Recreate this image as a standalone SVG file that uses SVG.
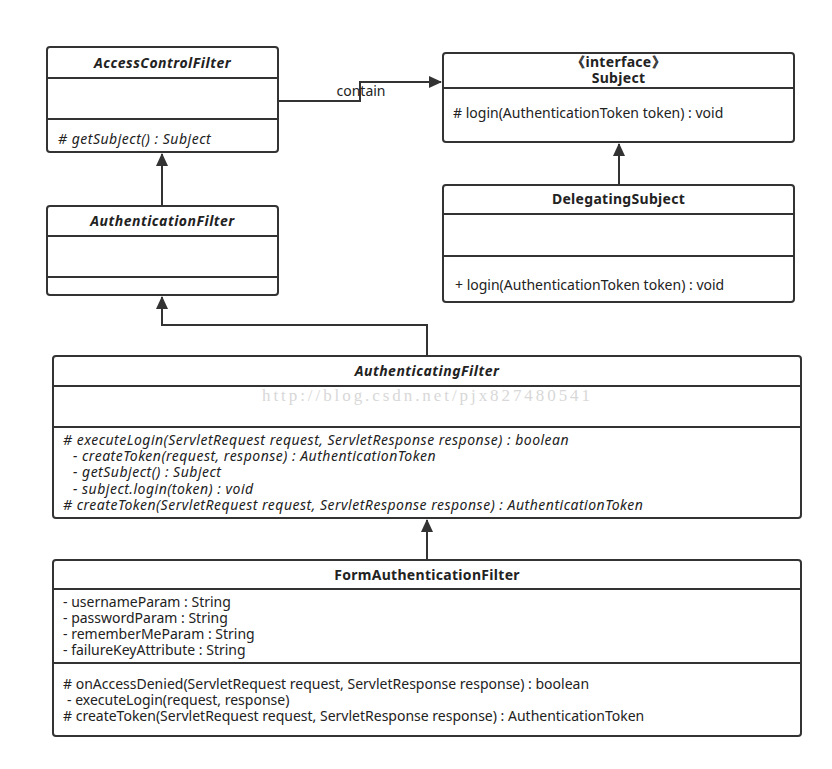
<svg xmlns="http://www.w3.org/2000/svg" width="832" height="769" viewBox="0 0 832 769">
<style>
.box{fill:#fff;stroke:#333;stroke-width:2}
.div{stroke:#333;stroke-width:2}
.t{font-family:"Noto Sans","Open Sans",sans-serif;font-size:14px;fill:#222}
.b{font-weight:bold;letter-spacing:0.3px}
.i{font-style:italic;letter-spacing:0.5px}
.c{text-anchor:middle}
.ln{fill:none;stroke:#333;stroke-width:2}
.wm{font-family:"Liberation Serif","DejaVu Serif",serif;font-size:17px;fill:#d8d8d8}
</style>
<defs>
<marker id="tri" markerWidth="14" markerHeight="14" refX="12" refY="6" orient="auto" markerUnits="userSpaceOnUse" viewBox="0 0 14 12">
<path d="M0,0 L13,6 L0,12 Z" fill="#333"/>
</marker>
</defs>
<rect width="832" height="769" fill="#fff"/>
<g id="connectors">
<polyline class="ln" points="278,101 360,101 360,82 441,82" marker-end="url(#tri)"/>
<text class="t" x="361" y="96" text-anchor="middle">contain</text>
<line class="ln" x1="162" y1="206" x2="162" y2="154" marker-end="url(#tri)"/>
<line class="ln" x1="619" y1="185" x2="619" y2="144" marker-end="url(#tri)"/>
<polyline class="ln" points="427,356 427,325 162,325 162,297" marker-end="url(#tri)"/>
<line class="ln" x1="427" y1="560" x2="427" y2="520" marker-end="url(#tri)"/>
</g>
<g id="AccessControlFilter">
<rect class="box" x="47" y="47" width="231" height="105" rx="3"/>
<line class="div" x1="47" y1="78" x2="278" y2="78"/>
<line class="div" x1="47" y1="119" x2="278" y2="119"/>
<text class="t b i c" x="162.5" y="68">AccessControlFilter</text>
<text class="t i" x="58" y="144"># getSubject() : Subject</text>
</g>
<g id="Subject">
<rect class="box" x="443" y="53" width="351" height="89" rx="3"/>
<line class="div" x1="443" y1="88" x2="794" y2="88"/>
<text class="t b c" x="618.5" y="67">《interface》</text>
<text class="t b c" x="618.5" y="83">Subject</text>
<text class="t" x="453" y="118"># login(AuthenticationToken token) : void</text>
</g>
<g id="AuthenticationFilter">
<rect class="box" x="47" y="206" width="231" height="89" rx="3"/>
<line class="div" x1="47" y1="236" x2="278" y2="236"/>
<line class="div" x1="47" y1="277" x2="278" y2="277"/>
<text class="t b i c" x="162.5" y="226">AuthenticationFilter</text>
</g>
<g id="DelegatingSubject">
<rect class="box" x="443" y="185" width="351" height="117" rx="3"/>
<line class="div" x1="443" y1="214" x2="794" y2="214"/>
<line class="div" x1="443" y1="256" x2="794" y2="256"/>
<text class="t b c" x="618.5" y="204">DelegatingSubject</text>
<text class="t" x="455" y="290">+ login(AuthenticationToken token) : void</text>
</g>
<g id="AuthenticatingFilter">
<rect class="box" x="53" y="356" width="748" height="162" rx="3"/>
<line class="div" x1="53" y1="386" x2="801" y2="386"/>
<line class="div" x1="53" y1="427" x2="801" y2="427"/>
<text class="t b i c" x="427" y="376">AuthenticatingFilter</text>
<text class="t i" x="63" y="445"># executeLogin(ServletRequest request, ServletResponse response) : boolean</text>
<text class="t i" x="73" y="461">- createToken(request, response) : AuthenticationToken</text>
<text class="t i" x="73" y="477">- getSubject() : Subject</text>
<text class="t i" x="73" y="494">- subject.login(token) : void</text>
<text class="t i" x="63" y="510"># createToken(ServletRequest request, ServletResponse response) : AuthenticationToken</text>
</g>
<g id="FormAuthenticationFilter">
<rect class="box" x="53" y="560" width="748" height="176" rx="3"/>
<line class="div" x1="53" y1="589" x2="801" y2="589"/>
<line class="div" x1="53" y1="663" x2="801" y2="663"/>
<text class="t b c" x="427" y="580">FormAuthenticationFilter</text>
<text class="t" x="63" y="607">- usernameParam : String</text>
<text class="t" x="63" y="623">- passwordParam : String</text>
<text class="t" x="63" y="639">- rememberMeParam : String</text>
<text class="t" x="63" y="655">- failureKeyAttribute : String</text>
<text class="t" x="63" y="689"># onAccessDenied(ServletRequest request, ServletResponse response) : boolean</text>
<text class="t" x="67" y="705">- executeLogin(request, response)</text>
<text class="t" x="63" y="721"># createToken(ServletRequest request, ServletResponse response) : AuthenticationToken</text>
</g>
<text class="wm" x="262" y="401" textLength="328" lengthAdjust="spacing">http://blog.csdn.net/pjx827480541</text>
</svg>
